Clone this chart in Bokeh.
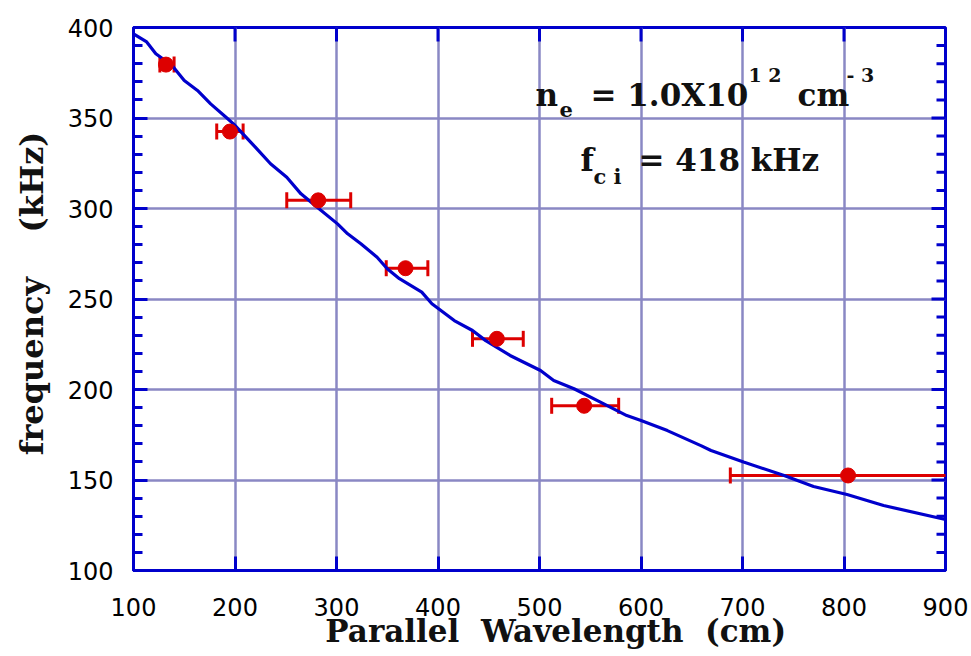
import math
from bokeh.plotting import figure
from bokeh.models import (ColumnDataSource, Whisker, TeeHead, Range1d,
                          SingleIntervalTicker, Label)
from bokeh.embed import file_html
from bokeh.resources import INLINE

# ---- data ----
curve_x = [100, 113, 122, 138, 150, 163, 176, 192, 199, 220, 235, 251, 265, 281, 301, 311,
           324, 340, 350, 362, 384, 394, 416, 434, 447, 471, 501, 514, 534, 560, 586,
           600, 626, 659, 669, 701, 741, 770, 803, 839, 900]
curve_y = [396.5, 392, 385.5, 379, 370.7, 365.2, 357.8, 350, 346.5, 333.9, 324.7, 317.3,
           308.1, 300.7, 291.5, 286, 280.5, 273.1, 266.7, 261.2, 253.8, 247.4, 238.1,
           232.6, 227, 218.8, 210.5, 205, 200.4, 193, 185.6, 182.9, 177.3, 169, 166.3,
           159.9, 152.5, 146.4, 142, 135.9, 128.2]

pt_x = [132, 195, 282, 368, 458, 544, 804]
pt_y = [379.5, 342.5, 304.5, 267, 228, 191, 152.5]
err_lo = [126, 182, 251, 349, 434, 512, 688]
err_hi = [140, 208, 314, 390, 484, 578, 920]

x_ticks = [100, 200, 300, 400, 500, 600, 700, 800, 900]
y_ticks = [100, 150, 200, 250, 300, 350, 400]
y_minor = [v for v in range(100, 401, 10) if v % 50]

BLUE = "#0000cc"
RED = "#dd0000"
GRID = "#8a88c4"
SERIF = "DejaVu Serif"
NB = "\u00a0"

p = figure(width=971, height=656, output_backend="svg", toolbar_location=None,
           x_range=Range1d(100, 900), y_range=Range1d(100, 400),
           min_border_left=133, min_border_right=26, min_border_top=27,
           min_border_bottom=86,
           x_axis_label=NB * 3 + "Parallel" + NB * 2 + "Wavelength" + NB * 2 + "(cm)",
           y_axis_label=NB + "frequency" + NB * 4 + "(kHz)")
p.outline_line_color = BLUE
p.outline_line_width = 3
p.background_fill_color = "white"
p.border_fill_color = "white"

xt = SingleIntervalTicker(interval=100, num_minor_ticks=0)
yt = SingleIntervalTicker(interval=50, num_minor_ticks=5)
p.xaxis.ticker = xt
p.yaxis.ticker = yt

for ax in p.axis:
    ax.axis_line_color = BLUE
    ax.axis_line_width = 3
    ax.major_tick_line_color = BLUE
    ax.major_tick_line_width = 3
    ax.minor_tick_line_color = BLUE
    ax.minor_tick_line_width = 3
    ax.major_tick_in = 14
    ax.major_tick_out = 0
    ax.minor_tick_in = 9
    ax.minor_tick_out = 0
    ax.major_label_text_font = "DejaVu Sans"
    ax.major_label_text_font_size = "24px"
    ax.major_label_text_color = "black"
    ax.axis_label_text_font = SERIF
    ax.axis_label_text_font_style = "bold"
    ax.axis_label_text_color = "#111111"

p.xaxis.axis_label_text_font_size = "31px"
p.yaxis.axis_label_text_font_size = "32px"
p.xaxis.major_label_standoff = 27
p.xaxis.axis_label_standoff = -6
p.yaxis.major_label_standoff = 20
p.yaxis.axis_label_standoff = 14

p.xgrid.ticker = xt
p.ygrid.ticker = yt
p.grid.grid_line_color = GRID
p.grid.grid_line_width = 2.5

# ticks on the top and right frame edges (clipped to the frame)
p.scatter(x_ticks, [400] * len(x_ticks), marker="dash", angle=math.pi / 2, size=28,
          line_color=BLUE, line_width=3)
p.scatter([900] * len(y_ticks), y_ticks, marker="dash", size=28,
          line_color=BLUE, line_width=3)
p.scatter([900] * len(y_minor), y_minor, marker="dash", size=18,
          line_color=BLUE, line_width=3)

# curve
p.line(curve_x, curve_y, line_color=BLUE, line_width=3.2)

# error bars
src = ColumnDataSource(dict(x=pt_x, y=pt_y, lo=err_lo, hi=err_hi))
w = Whisker(base="y", lower="lo", upper="hi", dimension="width", source=src,
            line_color=RED, line_width=3,
            upper_head=TeeHead(size=16, line_color=RED, line_width=3),
            lower_head=TeeHead(size=16, line_color=RED, line_width=3))
p.add_layout(w)
p.scatter("x", "y", source=src, size=15, fill_color=RED, line_color=RED)

# annotation text (positions in data coords)
def px2x(px):
    return 100 + (px - 133) / 1.015

def px2y(py):
    return 400 - (py - 27) / 1.81

def lab(text, px, py, size):
    p.add_layout(Label(x=px2x(px), y=px2y(py - 9), text=text, text_font=SERIF,
                       text_font_style="bold", text_font_size=size,
                       text_color="#111111", text_baseline="alphabetic",
                       text_align="left"))

lab("n", 535, 103, "31px")
lab("e", 559, 118, "21px")
lab("= 1.0X10", 590, 103, "31px")
lab("1 2", 748, 83, "19px")
lab("cm", 797, 103, "31px")
lab("- 3", 846, 83, "19px")
lab("f", 580, 168, "31px")
lab("c" + NB + "i", 593, 185, "21px")
lab("= 418 kHz", 638, 168, "31px")

open("out.html", "w").write(file_html(p, INLINE))
